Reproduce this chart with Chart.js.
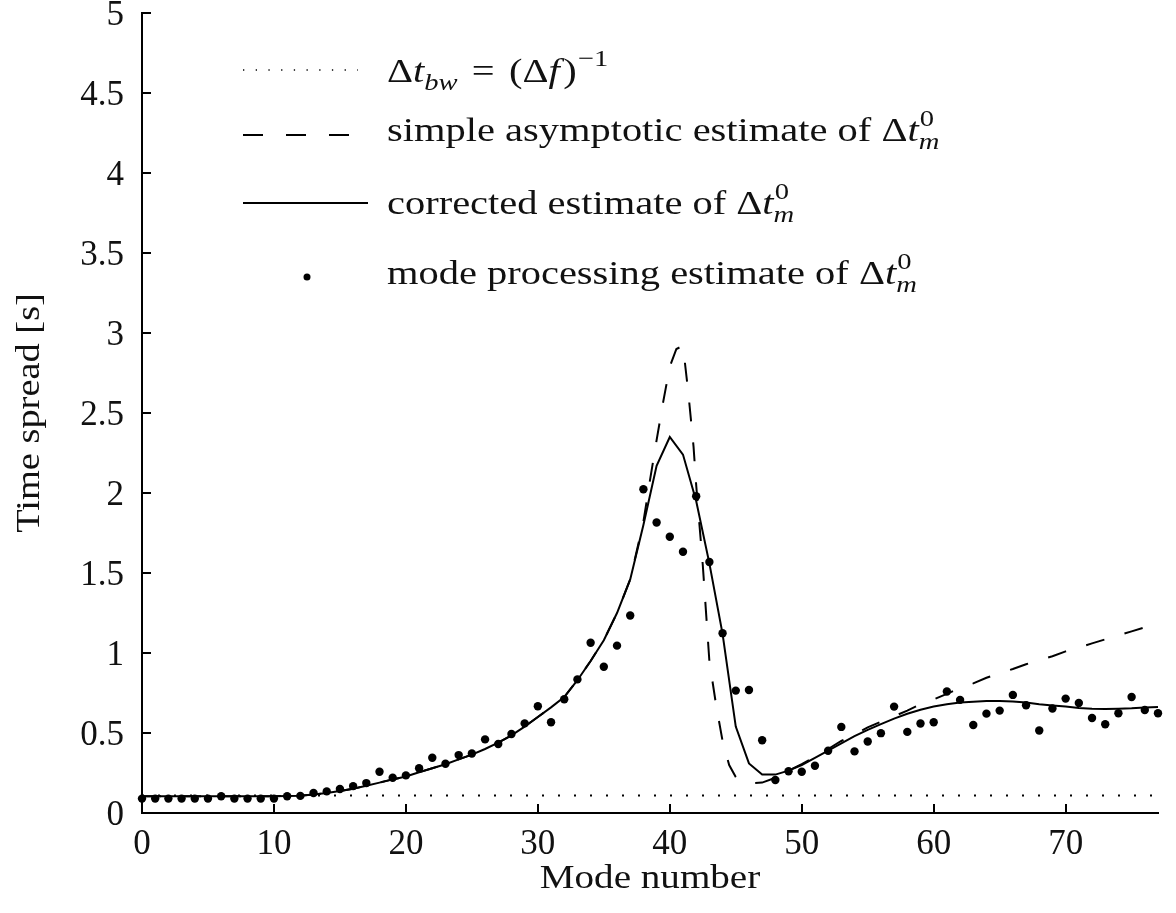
<!DOCTYPE html>
<html><head><meta charset="utf-8">
<script src="https://cdn.jsdelivr.net/npm/chart.js@4.4.1/dist/chart.umd.min.js"></script>
<style>html,body{margin:0;padding:0;background:#fff}#wrap{width:1176px;height:913px;position:relative}</style>
</head><body><div id="wrap"><canvas id="c"></canvas></div>
<script>
const modeNumbers = [0,1,2,3,4,5,6,7,8,9,10,11,12,13,14,15,16,17,18,19,20,21,22,23,24,25,26,27,28,29,30,31,32,33,34,35,36,37,38,39,40,41,42,43,44,45,46,47,48,49,50,51,52,53,54,55,56,57,58,59,60,61,62,63,64,65,66,67,68,69,70,71,72,73,74,75,76,77];
const processingEstimate = [0.09,0.09,0.09,0.09,0.09,0.09,0.105,0.09,0.09,0.09,0.09,0.105,0.107,0.125,0.135,0.15,0.168,0.187,0.258,0.22,0.235,0.28,0.345,0.308,0.362,0.372,0.46,0.431,0.494,0.56,0.667,0.567,0.711,0.835,1.064,0.914,1.046,1.234,2.023,1.816,1.727,1.633,1.98,1.569,1.124,0.765,0.769,0.455,0.206,0.261,0.258,0.295,0.389,0.538,0.385,0.447,0.499,0.665,0.507,0.559,0.567,0.759,0.707,0.55,0.621,0.64,0.738,0.673,0.516,0.653,0.715,0.688,0.594,0.555,0.623,0.725,0.644,0.623];
const correctedEstimate = [0.105,0.105,0.105,0.105,0.105,0.105,0.105,0.105,0.105,0.105,0.105,0.106,0.108,0.115,0.125,0.137,0.152,0.17,0.19,0.21,0.228,0.255,0.28,0.305,0.335,0.365,0.4,0.44,0.485,0.54,0.6,0.66,0.725,0.83,0.95,1.08,1.25,1.46,1.8,2.17,2.35,2.24,1.95,1.56,1.12,0.54,0.31,0.24,0.24,0.265,0.3,0.345,0.39,0.435,0.48,0.52,0.555,0.59,0.62,0.645,0.665,0.68,0.69,0.695,0.7,0.7,0.697,0.69,0.68,0.672,0.665,0.657,0.652,0.65,0.652,0.655,0.66,0.663];
const asymptoticModes = [0,1,2,3,4,5,6,7,8,9,10,11,12,13,14,15,16,17,18,19,20,21,22,23,24,25,26,27,28,29,30,31,32,33,34,35,36,37,38,38.5,39,39.5,40,40.5,41,41.4,41.8,42,42.5,43,43.5,44,44.5,45,45.5,46,47,48,49,50,51,52,53,54,55,56,57,58,59,60,61,62,63,64,65,66,67,68,69,70,71,72,73,74,75,76,77];
const asymptoticEstimate = [0.105,0.105,0.105,0.105,0.105,0.105,0.105,0.105,0.105,0.105,0.105,0.106,0.108,0.115,0.125,0.137,0.152,0.17,0.19,0.21,0.228,0.255,0.28,0.305,0.335,0.365,0.4,0.44,0.485,0.54,0.6,0.66,0.725,0.83,0.95,1.08,1.25,1.46,1.82,2.08,2.33,2.57,2.79,2.9,2.92,2.63,2.29,2.05,1.55,0.95,0.68,0.45,0.3,0.225,0.198,0.185,0.19,0.22,0.265,0.305,0.35,0.4,0.45,0.49,0.535,0.57,0.605,0.64,0.68,0.71,0.745,0.78,0.81,0.845,0.875,0.9,0.93,0.955,0.98,1.01,1.035,1.06,1.085,1.11,1.135,1.16,1.18];
const bandwidthModes = [0, 77];
const bandwidthSpread = [0.11, 0.11];
const xTickValues = [0,10,20,30,40,50,60,70];
const yTickValues = [0,0.5,1,1.5,2,2.5,3,3.5,4,4.5,5];
const yTickLabels = ['0','0.5','1','1.5','2','2.5','3','3.5','4','4.5','5'];
const xTitle = 'Mode number';
const yTitle = 'Time spread [s]';

const FONT = "'Liberation Serif', 'Times New Roman', serif";
const FS = 34;
const STRETCH = 1.19;

function pts(xs, ys) { return xs.map((x, i) => ({x: x, y: ys[i]})); }

function drawRuns(ctx, x0, y, runs) {
  ctx.save();
  ctx.translate(x0, 0);
  ctx.scale(STRETCH, 1);
  let x = 0;
  for (const r of runs) {
    if (r.gap) { x += r.gap; continue; }
    if (r.stack) {
      const s = Math.round(FS * 0.72);
      ctx.font = `${s}px ${FONT}`;
      const w1 = ctx.measureText(r.sup).width;
      ctx.fillText(r.sup, x + 1, y - 15);
      ctx.font = `italic ${s}px ${FONT}`;
      const w2 = ctx.measureText(r.sub).width;
      ctx.fillText(r.sub, x, y + 8);
      x += Math.max(w1, w2);
      continue;
    }
    const size = Math.round(FS * (r.s || 1));
    ctx.font = `${r.it ? 'italic ' : ''}${size}px ${FONT}`;
    ctx.fillText(r.t, x, y + (r.dy || 0));
    x += ctx.measureText(r.t).width;
  }
  ctx.restore();
}

function centeredStretched(ctx, text, cx, cy, k) {
  ctx.save();
  ctx.translate(cx, cy);
  ctx.scale(k, 1);
  ctx.fillText(text, 0, 0);
  ctx.restore();
}

const decor = {
  id: 'decor',
  afterDraw(chart) {
    const ctx = chart.ctx;
    const xs = chart.scales.x, ys = chart.scales.y;
    const a = chart.chartArea;
    ctx.save();
    ctx.strokeStyle = '#000';
    ctx.lineWidth = 2;
    ctx.beginPath();
    for (const v of yTickValues) {
      const py = Math.round(ys.getPixelForValue(v));
      ctx.moveTo(a.left, py); ctx.lineTo(a.left + 9, py);
    }
    for (const v of xTickValues) {
      const px = Math.round(xs.getPixelForValue(v));
      ctx.moveTo(px, a.bottom); ctx.lineTo(px, a.bottom - 9);
    }
    ctx.stroke();

    ctx.fillStyle = '#111';
    ctx.textBaseline = 'middle';
    ctx.textAlign = 'center';
    ctx.font = `${FS}px ${FONT}`;
    centeredStretched(ctx, xTitle, (a.left + a.right) / 2, 879, 1.15);
    ctx.save();
    ctx.translate(30, (a.top + a.bottom) / 2);
    ctx.rotate(-Math.PI / 2);
    centeredStretched(ctx, yTitle, 0, 0, 1.13);
    ctx.restore();

    // legend
    ctx.textAlign = 'left';
    ctx.textBaseline = 'alphabetic';
    const tx = 387;
    ctx.strokeStyle = '#000';
    ctx.lineWidth = 1.3;
    ctx.setLineDash([1.3, 11.4]);
    ctx.beginPath(); ctx.moveTo(243, 70); ctx.lineTo(358, 70); ctx.stroke();
    drawRuns(ctx, tx, 82, [
      {t: '\u0394'}, {t: 't', it: true}, {t: 'bw', it: true, s: 0.72, dy: 8}, {gap: 12},
      {t: '='}, {gap: 12}, {t: '(\u0394'}, {t: 'f', it: true}, {gap: 3}, {t: ')'}, {gap: 1}, {t: '\u22121', s: 0.72, dy: -16}
    ]);
    ctx.lineWidth = 2;
    ctx.setLineDash([20, 23]);
    ctx.beginPath(); ctx.moveTo(243, 135); ctx.lineTo(360, 135); ctx.stroke();
    drawRuns(ctx, tx, 141, [
      {t: 'simple asymptotic estimate of \u0394'}, {t: 't', it: true}, {stack: true, sup: '0', sub: 'm'}
    ]);
    ctx.setLineDash([]);
    ctx.beginPath(); ctx.moveTo(243, 203); ctx.lineTo(368, 203); ctx.stroke();
    drawRuns(ctx, tx, 214, [
      {t: 'corrected estimate of \u0394'}, {t: 't', it: true}, {stack: true, sup: '0', sub: 'm'}
    ]);
    ctx.beginPath(); ctx.arc(307, 277, 3.5, 0, Math.PI * 2); ctx.fillStyle = '#000'; ctx.fill();
    ctx.fillStyle = '#111';
    drawRuns(ctx, tx, 284, [
      {t: 'mode processing estimate of \u0394'}, {t: 't', it: true}, {stack: true, sup: '0', sub: 'm'}
    ]);
    ctx.restore();
  }
};

new Chart(document.getElementById('c'), {
  type: 'scatter',
  data: {
    datasets: [
      {label: 'mode processing estimate', data: pts(modeNumbers, processingEstimate), showLine: false,
       pointRadius: 4.2, pointBackgroundColor: '#000', pointBorderWidth: 0, clip: false, order: 0},
      {label: 'corrected estimate', data: pts(modeNumbers, correctedEstimate), showLine: true,
       borderColor: '#000', borderWidth: 2, pointRadius: 0, tension: 0, order: 1},
      {label: 'simple asymptotic estimate', data: pts(asymptoticModes, asymptoticEstimate), showLine: true,
       borderColor: '#000', borderWidth: 2, borderDash: [19, 21], pointRadius: 0, tension: 0, order: 2},
      {label: 'bandwidth', data: pts(bandwidthModes, bandwidthSpread), showLine: true,
       borderColor: '#000', borderWidth: 2, borderDash: [2, 14], pointRadius: 0, order: 3}
    ]
  },
  options: {
    responsive: true, maintainAspectRatio: false, animation: false,
    devicePixelRatio: 1,
    layout: {padding: {top: 13, right: 18, left: 0, bottom: 0}},
    plugins: {legend: {display: false}, tooltip: {enabled: false}},
    scales: {
      x: {type: 'linear', min: 0, max: 77,
        afterBuildTicks: s => { s.ticks = xTickValues.map(v => ({value: v})); },
        afterFit: s => { s.height = 100; s.paddingLeft = 0; s.paddingRight = 0; },
        grid: {display: false, drawTicks: false},
        border: {display: true, color: '#000', width: 2},
        ticks: {color: '#111', font: {family: FONT, size: 35}, padding: 11, maxRotation: 0,
                callback: v => String(v)}},
      y: {type: 'linear', min: 0, max: 5,
        afterBuildTicks: s => { s.ticks = yTickValues.map(v => ({value: v})); },
        afterFit: s => { s.width = 142; s.paddingTop = 0; s.paddingBottom = 0; },
        grid: {display: false, drawTicks: false},
        border: {display: true, color: '#000', width: 2},
        ticks: {color: '#111', font: {family: FONT, size: 35}, padding: 18, labelOffset: 3,
                callback: (v, i) => yTickLabels[i]}}
    }
  },
  plugins: [decor]
});
</script></body></html>
